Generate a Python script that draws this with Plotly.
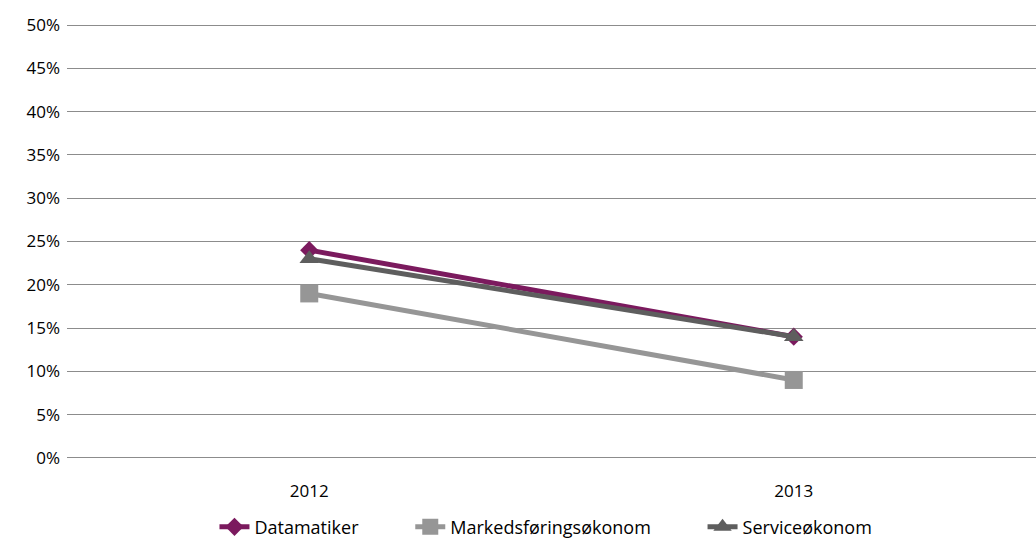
import plotly.graph_objects as go

years = ["2012", "2013"]
datamatiker = [0.24, 0.14]
markedsforing = [0.19, 0.09]
service = [0.23, 0.14]
y_ticks = [i / 100 for i in range(0, 55, 5)]
y_labels = [f"{i}%" for i in range(0, 55, 5)]
names = ["Datamatiker", "Markedsføringsøkonom", "Serviceøkonom"]

pad = "\u00a0" * 10

fig = go.Figure()
fig.add_trace(go.Scatter(x=years, y=datamatiker, name=names[0] + pad, mode="lines+markers",
                         line=dict(color="#7B1A5E", width=5),
                         marker=dict(symbol="diamond", size=14, color="#7B1A5E")))
fig.add_trace(go.Scatter(x=years, y=markedsforing, name=names[1] + pad, mode="lines+markers",
                         line=dict(color="#969696", width=5),
                         marker=dict(symbol="square", size=18, color="#969696")))
fig.add_trace(go.Scatter(x=years, y=service, name=names[2], mode="lines+markers",
                         line=dict(color="#5E5E5E", width=5),
                         marker=dict(symbol="triangle-up", size=17, color="#5E5E5E")))

fig.update_layout(
    width=1036, height=544,
    margin=dict(l=67, r=0, t=23, b=84),
    paper_bgcolor="white", plot_bgcolor="white",
    font=dict(family="Open Sans, Lato, sans-serif", size=17, color="#000"),
    showlegend=True,
    legend=dict(orientation="h", xref="container", x=0.527, xanchor="center",
                yref="container", y=0.031, yanchor="middle",
                font=dict(size=18), traceorder="normal"),
    xaxis=dict(type="category", range=[-0.5, 1.5], showgrid=False, showline=False,
               ticks="", ticklabelstandoff=19, automargin=False),
    yaxis=dict(range=[-0.0025, 0.5025], tickvals=y_ticks, ticktext=y_labels, showgrid=True,
               gridcolor="#8C8C8C", gridwidth=1, zeroline=False, showline=False,
               ticks="", ticklabelstandoff=6, automargin=False),
)
fig.write_html("out.html", config={"displayModeBar": False},
               post_script="document.body.style.margin='0';")
